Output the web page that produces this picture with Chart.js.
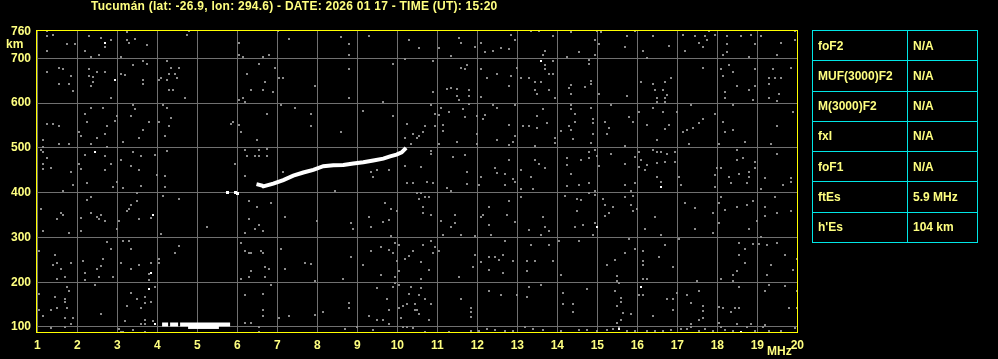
<!DOCTYPE html>
<html>
<head>
<meta charset="utf-8">
<script src="https://cdn.jsdelivr.net/npm/chart.js@4.4.1/dist/chart.umd.min.js"></script>
<style>
  html, body { margin: 0; padding: 0; background: #000; }
  #wrap { position: relative; width: 998px; height: 359px; background: #000; }
  #iono { position: absolute; left: 0; top: 0; }
  #params {
    position: absolute; left: 812px; top: 30px; width: 166px; height: 213px;
    border-collapse: collapse; font: bold 12px "Liberation Sans", Arial, sans-serif; color: #ffff80;
  }
  #params td { border: 1px solid #00e6e6; padding: 0 0 0 5px; height: 29px; vertical-align: middle; }
  #params td:first-child { width: 89px; }
</style>
</head>
<body>
<div id="wrap">
  <canvas id="iono" width="998" height="359"></canvas>
  <table id="params"></table>
</div>
<script>
const TITLE = "Tucumán (lat: -26.9, lon: 294.6) - DATE: 2026 01 17 - TIME (UT): 15:20";

// ── axis ticks ───────────────────────────────────────────────
const freqTicks   = [1,2,3,4,5,6,7,8,9,10,11,12,13,14,15,16,17,18,19,20];
const heightTicks = [100,200,300,400,500,600,700,760];

// ── scaled parameters table ─────────────────────────────────
const paramNames  = ["foF2", "MUF(3000)F2", "M(3000)F2", "fxI", "foF1", "ftEs", "h'Es"];
const paramValues = ["N/A", "N/A", "N/A", "N/A", "N/A", "5.9 MHz", "104 km"];

// ── echo traces [MHz, km] ────────────────────────────────────
const fTrace = [
  [6.48,419],[6.62,416],[6.65,414],[6.9,420],[7.15,428],[7.4,438],[7.65,445],[7.9,451],
  [8.15,459],[8.4,461],[8.65,462],[8.9,465],[9.15,468],[9.4,472],[9.65,476],
  [9.82,481],[9.98,485],[10.11,490],[10.22,500]
];
const fSpread  = [[5.75,401],[5.95,400],[6.0,399]];
const esUpper  = [[4.12,105.5],[4.27,105.5],null,[4.32,105.5],[4.52,105.5],null,[4.57,105.5],[5.82,105.5]];
const esLower  = [[4.77,99],[5.54,99]];

// ── scattered white returns ──────────────────────────────────
const whiteDots = [
  [2.69,735],[2.94,652],[2.44,490],[13.59,693],[3.89,350],[3.84,220],[3.79,184],
  [16.59,413],[14.99,323],[16.09,189],[15.54,95],[18.59,88],[3.93,106]
];

// ── background noise [MHz, km] ───────────────────────────────
const noiseTopLeft = [
  [1.24,762],[1.39,753],[1.24,749],[1.74,731],[1.94,733],[1.24,717],
  [2.28,749],[2.59,746],[2.83,740],[2.69,726],[2.19,717],[2.53,708],[2.34,704],
  [3.24,758],[3.24,741],[3.44,744],[3.29,735],[3.74,729],[3.09,704],
  [4.79,762],[4.74,753],
  [6.04,735],[6.04,708],[6.14,704],[7.02,762],[7.29,744],[6.64,704],[6.79,708],
  [8.58,747],[8.79,731],[8.79,708],[9.29,749],[10.29,740],[10.19,698],
  [1.24,670],[1.54,679],[1.64,676],[1.84,661],[1.54,643],[1.79,643],[1.89,627],
  [2.29,676],[2.29,660],[2.39,658],[2.34,639],[2.49,670],[2.69,670],[2.39,648],
  [3.09,666],[3.19,663],[3.39,684],[3.64,693],[3.74,688],[3.64,652],[3.64,643],[2.84,612],
  [4.04,652],[4.09,657],[4.24,693],[4.34,679],[4.54,679],[4.29,666],[4.44,666],[4.49,657],
  [4.24,652],[4.29,630],[4.39,630],[4.69,612],
  [6.24,666],[6.54,688],[6.94,679],[6.69,648],[7.04,657],[7.14,657],[6.34,630],[6.64,630],
  [6.89,625],[6.04,607],[6.14,612],[6.19,603],
  [7.94,639],[8.79,675],[8.79,612],[9.89,688],[9.64,603],
  [2.19,576],[2.34,590],[2.64,589],[1.24,553],[1.39,553],[1.54,549],[1.14,517],[1.14,503],
  [2.04,535],[2.09,526],[2.24,558],[2.74,549],[2.69,531],[2.49,522],[2.34,508],[1.54,508],[1.79,508],
  [2.94,561],[2.99,572],[3.39,595],[3.44,586],[3.34,572],[3.64,540],[3.79,558],[3.54,522],
  [3.14,513],[4.19,526],[4.14,595],[4.24,590],[4.34,567],[4.29,549],[4.04,558],
  [5.84,553],[6.04,551],[5.89,558],[6.09,535],[6.49,517],[6.74,576],[7.09,595],[7.44,590],
  [7.84,576],[7.84,549],[8.59,535],[9.14,582],[9.89,572],[10.24,553],[10.19,522],[10.39,531],
  [10.34,508],[10.49,522],
  [1.09,495],[1.14,490],[1.24,477],[1.14,463],[1.14,452],[1.34,454],[1.84,445],[2.04,463],
  [2.09,452],[2.19,484],[2.69,481],[2.74,502],[2.84,463],[2.69,450],[3.09,472],[3.39,490],
  [3.59,481],[3.94,484],[3.34,459],[3.54,450],[3.99,439],[4.24,493],[4.19,437],[5.94,463],
  [6.19,495],[6.24,481],[6.44,481],[6.54,481],[6.74,481],[6.54,495],[6.74,497],
  [6.19,437],[7.14,445],[9.34,445],[9.49,450],[9.79,450],[10.19,459],[9.39,434]
];

const noiseTopRight = [
  [10.54,724],[11.04,722],[11.34,706],[11.54,746],[11.59,735],[11.94,726],[12.09,735],
  [12.19,713],[12.39,717],[12.59,722],[12.79,720],[12.84,753],[12.94,740],[13.34,762],
  [13.54,762],[13.64,708],[13.69,717],[13.89,749],[14.34,758],[14.54,713],[14.24,704],
  [14.94,740],[15.04,731],[15.09,758],[15.0,762],[14.94,708],[15.69,726],[15.74,749],
  [15.94,762],[16.14,717],[16.24,701],[16.39,749],[16.79,728],[17.14,753],[17.19,717],
  [17.44,749],[17.54,735],[17.64,726],[17.69,749],[17.74,740],[17.79,762],[17.94,753],
  [18.24,749],[18.24,731],[18.14,708],[18.24,713],[18.59,749],[18.84,753],[18.94,731],
  [18.79,704],[19.09,749],[19.59,735],[19.49,708],[19.94,762],[19.94,740],
  [10.89,693],[10.89,625],[11.24,632],[11.34,634],[11.49,632],[11.59,679],[11.74,686],
  [11.69,675],[11.49,616],[11.54,607],[11.79,630],[11.79,616],[12.09,675],[12.24,655],
  [12.49,666],[12.84,661],[12.79,639],[12.09,614],[12.99,679],[13.09,657],[13.29,657],
  [13.44,648],[13.44,630],[13.49,621],[13.69,684],[13.69,675],[13.79,666],[13.89,666],
  [13.89,693],[13.59,646],[13.79,630],[13.94,612],[14.29,634],[14.34,641],[14.34,621],
  [14.69,636],[14.84,650],[14.84,643],[14.79,688],[14.79,697],[15.04,621],[15.74,616],
  [16.09,648],[16.39,643],[16.44,630],[16.64,630],[16.69,648],[16.84,655],[16.49,612],
  [16.69,612],[16.74,618],[16.69,603],[16.49,603],[17.64,679],[18.09,677],[18.29,686],
  [18.39,670],[18.14,661],[18.94,675],[18.94,639],[18.19,625],[18.19,612],[18.49,639],
  [18.79,630],[18.89,607],[19.39,677],[19.29,657],[19.29,643],[19.44,655],[19.59,655],
  [19.29,612],[19.49,605],[19.54,621],[19.84,679],
  [10.84,595],[10.94,576],[11.04,574],[11.09,590],[11.29,579],[10.69,549],[10.64,536],
  [10.54,527],[10.94,548],[11.14,552],[11.14,538],[11.04,508],[11.49,513],[11.64,586],
  [11.69,568],[11.79,599],[11.99,571],[12.19,574],[12.14,564],[11.99,531],[11.99,508],
  [12.39,595],[12.49,590],[12.79,552],[12.94,527],[12.94,595],[12.49,517],[12.79,506],
  [12.89,513],[13.14,549],[13.29,549],[13.49,544],[13.49,572],[13.64,586],[13.74,556],
  [13.44,504],[13.94,522],[13.94,511],[14.09,538],[14.29,549],[14.34,540],[14.39,520],
  [14.34,595],[14.34,586],[14.44,576],[14.44,558],[14.84,590],[14.89,564],[14.89,555],
  [14.89,531],[14.84,511],[15.19,558],[15.34,595],[15.29,544],[15.24,531],[15.79,568],
  [15.89,558],[15.69,504],[16.04,579],[16.24,552],[16.39,590],[16.64,579],[16.79,552],
  [16.69,543],[16.49,517],[16.99,579],[17.34,595],[17.14,536],[17.24,540],[17.39,544],
  [17.54,556],[17.64,564],[17.29,508],[17.94,576],[18.14,558],[18.19,536],[18.39,540],
  [18.04,508],[18.39,595],[18.69,513],[19.49,549],[19.34,508],[19.89,581],
  [10.84,493],[10.84,486],[10.59,457],[11.39,479],[11.69,484],[11.74,445],[12.09,436],
  [12.49,443],[12.44,454],[12.69,441],[12.79,474],[12.89,430],[13.09,450],[13.44,474],
  [13.54,463],[13.69,454],[13.34,434],[14.24,477],[14.24,461],[14.59,472],[14.79,490],
  [14.79,477],[14.34,441],[14.94,495],[14.99,481],[15.04,459],[15.34,486],[15.69,463],
  [15.94,479],[16.04,490],[16.04,457],[16.09,472],[16.19,450],[16.39,495],[16.49,490],
  [16.59,490],[16.74,486],[16.94,490],[16.24,461],[16.49,466],[16.49,436],[16.69,468],
  [16.94,468],[17.04,436],[17.99,454],[17.94,439],[18.09,454],[18.29,436],[18.49,474],
  [18.49,495],[18.64,477],[18.54,441],[18.79,445],[18.79,436],[18.94,468],[18.94,454],
  [19.19,432],[19.49,486],[19.84,432]
];

const noiseBottomLeft = [
  [1.89,417],[2.24,422],[2.89,413],[3.14,410],[3.59,415],[2.99,424],[3.49,399],[4.19,413],
  [1.64,404],[10.24,422],[10.39,422],[8.44,404],[10.49,399],
  [1.09,363],[1.59,355],[1.64,350],[1.49,341],[2.09,343],[2.24,384],[2.34,390],[2.34,355],
  [2.49,346],[2.59,350],[2.54,341],[2.69,337],[2.09,314],[1.79,310],[1.14,314],[2.99,319],
  [3.04,337],[3.24,359],[3.34,372],[3.49,381],[3.29,363],[3.54,341],[3.84,343],[4.09,308],
  [4.14,393],[4.54,386],[5.24,323],[6.29,381],[6.49,368],[6.84,377],[6.29,341],[6.54,328],
  [6.44,319],[6.64,314],[6.19,310],[7.19,346],[7.99,337],[9.29,346],[9.69,377],[9.84,363],
  [8.84,332],[8.89,319],[9.34,323],[9.64,334],[9.79,339],[9.99,359],[9.84,303],
  [1.04,269],[1.44,260],[1.49,243],[1.59,229],[1.39,238],[1.84,243],[1.69,211],[1.49,207],
  [2.14,247],[2.19,220],[2.19,204],[2.49,229],[2.59,236],[2.64,252],[2.74,290],[2.84,274],
  [2.54,211],[2.89,211],[3.09,243],[3.14,292],[3.29,292],[3.34,274],[3.34,229],[3.54,238],
  [3.79,218],[3.79,204],[3.84,243],[4.04,252],[4.04,243],[4.44,265],[4.54,281],
  [6.09,287],[6.19,269],[6.29,265],[6.34,265],[6.59,269],[6.64,265],[6.34,225],[6.29,211],
  [6.09,207],[6.69,234],[6.79,229],[6.69,211],[7.09,274],[7.19,229],[7.69,243],[7.84,240],
  [7.94,202],[8.64,207],[8.84,256],[9.14,238],[9.34,269],[9.59,278],[9.59,216],[9.79,272],
  [9.89,265],[9.94,287],[10.04,283],[10.19,252],[10.29,258],[9.99,247],[10.04,225],
  [10.39,269],[9.94,211],
  [1.04,173],[1.04,137],[1.14,124],[1.44,166],[1.34,139],[1.49,142],[1.69,162],[1.69,155],
  [1.74,142],[1.79,180],[1.74,189],[1.69,119],[1.69,99],[1.34,97],[1.89,119],[1.84,106],
  [2.59,128],[2.44,193],[3.19,113],[3.04,95],[3.09,88],[3.24,146],[3.34,175],[3.49,162],
  [3.69,166],[3.59,142],[3.69,153],[3.84,155],[3.89,113],[3.69,115],[3.59,106],[3.69,106],
  [3.39,93],[3.69,88],[3.94,189],[3.14,89],
  [6.19,171],[6.64,173],[6.64,139],[6.84,193],[6.19,110],[6.34,110],[6.54,99],[6.64,124],
  [7.04,119],[7.29,124],[7.94,126],[8.14,133],[8.79,153],[8.79,142],[9.29,124],[9.49,115],
  [9.64,115],[9.49,187],[9.74,162],[9.79,139],[9.89,189],[10.04,193],[9.94,198],[10.04,142],
  [10.14,146],[10.24,151],[10.29,173],[10.34,189],[10.44,151],[10.09,119],[10.14,101],
  [10.24,101],[10.39,97],[10.44,137],[9.39,93],[9.79,106],[8.99,99],[8.69,95],[6.54,88]
];

const noiseBottomRight = [
  [10.59,399],[10.74,424],[10.89,422],[11.24,410],[11.34,404],[11.74,419],[12.04,417],
  [12.69,417],[12.94,424],[13.09,408],[13.39,408],[14.24,415],[14.54,417],[14.79,422],
  [14.94,404],[15.69,417],[15.84,404],[15.94,422],[16.59,424],[17.09,417],[17.94,413],
  [18.34,422],[18.74,422],[19.09,408],[19.64,417],[19.84,424],
  [10.49,399],[10.54,386],[10.69,390],[10.79,390],[10.64,368],[10.64,355],[10.84,350],
  [11.09,337],[11.44,350],[11.44,332],[11.34,323],[11.14,305],[11.59,305],[11.94,303],
  [12.29,368],[12.09,346],[12.14,350],[12.29,328],[12.74,350],[12.79,381],[12.94,334],
  [12.34,305],[13.09,390],[13.29,316],[13.59,305],[13.64,346],[13.69,323],[13.79,314],
  [14.19,393],[14.49,359],[14.44,323],[14.49,386],[14.59,384],[14.64,328],[14.89,305],
  [14.94,332],[14.79,399],[14.94,394],[15.14,386],[15.19,372],[15.19,348],[15.29,355],
  [15.39,368],[15.69,390],[15.84,372],[15.89,393],[15.89,359],[15.99,363],[16.19,319],
  [16.44,346],[16.59,305],[17.19,377],[17.44,366],[17.89,355],[17.44,319],[17.89,310],
  [18.04,377],[18.09,390],[18.19,361],[18.04,332],[18.49,368],[18.74,372],[18.89,381],
  [18.99,337],[18.79,319],[19.19,368],[19.19,348],[19.44,390],[19.49,355],[19.84,359],
  [19.09,301],
  [10.64,283],[10.84,292],[10.94,278],[10.89,265],[11.04,269],[10.59,245],[10.79,227],
  [10.59,207],[11.54,211],[11.89,234],[11.94,260],[12.09,245],[12.29,227],[12.29,256],
  [12.44,256],[12.54,249],[12.64,260],[12.64,220],[12.89,247],[12.69,292],[13.24,247],
  [13.44,247],[13.24,225],[13.34,283],[13.79,283],[13.89,247],[14.09,216],[14.04,292],
  [14.54,292],[15.24,238],[15.44,249],[15.49,213],[15.49,202],[15.69,265],[15.79,296],
  [15.94,274],[16.14,269],[16.14,247],[16.14,238],[16.54,256],[16.69,283],[16.24,207],
  [16.14,207],[16.89,234],[17.04,296],[17.49,202],[18.09,207],[18.39,216],[18.39,202],
  [18.49,225],[18.54,287],[18.69,274],[18.69,243],[18.54,260],[18.89,285],[19.04,285],
  [19.24,283],[19.24,216],[19.49,287],[19.69,260],[19.34,238],[19.89,227],[19.99,252],
  [10.59,187],[10.54,171],[10.69,162],[10.84,151],[10.49,137],[10.54,128],[10.79,115],
  [11.59,162],[11.84,142],[11.84,133],[11.84,122],[12.29,180],[12.59,171],[12.99,171],
  [13.29,189],[13.24,166],[13.59,193],[14.14,175],[14.14,151],[14.39,151],[14.39,133],
  [14.74,184],[15.44,180],[15.54,198],[15.59,164],[15.49,146],[15.59,155],[15.64,131],
  [15.84,128],[15.49,110],[15.59,115],[15.54,101],[16.04,171],[16.14,171],[16.39,124],
  [16.74,162],[16.89,162],[16.99,175],[16.89,139],[17.24,171],[17.34,153],[17.54,180],
  [17.64,146],[17.64,135],[17.64,119],[17.54,115],[17.34,106],[18.04,144],[18.14,142],
  [18.34,133],[18.44,142],[18.54,142],[18.54,189],[18.04,108],[19.19,180],[19.29,193],
  [19.69,191],[19.79,142],[19.99,142],[19.99,180],[18.49,106],[18.84,106],[19.19,104],
  [10.69,88],[11.29,88],[11.84,92],[12.04,90],[12.24,95],[12.44,93],[12.69,92],[12.89,90],
  [13.19,99],[13.39,95],[13.64,93],[14.09,92],[14.54,93],[14.74,93],[14.99,92],[15.24,93],
  [15.39,95],[15.74,90],[15.94,92],[16.24,90],[16.44,92],[16.64,92],[16.84,93],[17.09,95],
  [17.24,95],[17.34,101],[17.54,92],[17.69,95],[17.89,92],[18.09,99],[18.19,93],[18.39,92],
  [18.74,99],[18.94,92],[19.14,99],[19.29,90],[19.59,92],[19.94,97]
];

// ── colours ──────────────────────────────────────────────────
const TEXT   = "#ffff80";
const FRAME  = "#ffff00";
const GRID   = "#707070";
const NOISE  = "#8c8c8c";
const FONT   = '"Liberation Sans", Arial, sans-serif';

const toXY = arr => arr.map(p => p ? { x: p[0], y: p[1] } : { x: null, y: null });

// small square sprites so the echoes stay crisp like the sounder output
function sprite(size, color) {
  const c = document.createElement("canvas");
  c.width = size; c.height = size;
  const g = c.getContext("2d");
  g.fillStyle = color;
  g.fillRect(0, 0, size, size);
  return c;
}
const grayDot  = sprite(2, NOISE);
const whiteDot = sprite(2, "#ffffff");
const whiteBig = sprite(3, "#ffffff");

function dotSet(arr, img) {
  return {
    type: "scatter", data: toXY(arr), showLine: false,
    pointStyle: img, pointRadius: 1, pointHoverRadius: 1
  };
}

function traceSet(arr, width) {
  return {
    type: "line", data: toXY(arr), showLine: true, spanGaps: false,
    borderColor: "#ffffff", borderWidth: width, pointRadius: 0, tension: 0,
    borderCapStyle: "butt"
  };
}

// ── frame, title, unit labels ────────────────────────────────
const framePlugin = {
  id: "frame",
  beforeDraw(chart) {
    chart.ctx.imageSmoothingEnabled = false;
  },
  afterDraw(chart) {
    const { ctx, chartArea: a } = chart;
    ctx.save();
    ctx.strokeStyle = FRAME;
    ctx.lineWidth = 1;
    ctx.strokeRect(a.left + 0.5, a.top + 0.5, a.right - a.left - 1, a.bottom - a.top - 1);
    ctx.fillStyle = TEXT;
    ctx.font = "bold 12px " + FONT;
    ctx.textBaseline = "middle";
    ctx.textAlign = "left";
    ctx.letterSpacing = "0.25px";
    ctx.fillText(TITLE, 91, 7);
    ctx.letterSpacing = "0px";
    ctx.fillText("km", 6, 45);
    ctx.fillText("MHz", 767, 352);
    ctx.restore();
  }
};

new Chart(document.getElementById("iono"), {
  type: "scatter",
  data: {
    datasets: [
      dotSet(noiseTopLeft, grayDot),
      dotSet(noiseTopRight, grayDot),
      dotSet(noiseBottomLeft, grayDot),
      dotSet(noiseBottomRight, grayDot),
      dotSet(whiteDots, whiteDot),
      dotSet(fSpread, whiteBig),
      traceSet(fTrace, 4),
      traceSet(esUpper, 4),
      traceSet(esLower, 3)
    ]
  },
  options: {
    responsive: false,
    animation: false,
    devicePixelRatio: 1,
    layout: { padding: { top: 30, right: 200, left: 0, bottom: 0 } },
    plugins: { legend: { display: false }, tooltip: { enabled: false } },
    scales: {
      x: {
        type: "linear", min: 0.9675, max: 20.0175,
        afterBuildTicks: s => { s.ticks = freqTicks.map(v => ({ value: v })); },
        afterFit: s => { s.height = 26; },
        grid: { color: GRID, lineWidth: 1, drawTicks: false },
        border: { display: false },
        ticks: { color: TEXT, font: { family: FONT, size: 12, weight: "bold" }, padding: 5, maxRotation: 0, autoSkip: false }
      },
      y: {
        type: "linear", min: 86.6, max: 763.2,
        afterBuildTicks: s => { s.ticks = heightTicks.map(v => ({ value: v })); },
        afterFit: s => { s.width = 36; },
        grid: {
          color: c => (c.tick && c.tick.value === 760) ? "rgba(0,0,0,0)" : GRID,
          lineWidth: 1, drawTicks: false
        },
        border: { display: false },
        ticks: { color: TEXT, font: { family: FONT, size: 12, weight: "bold" }, padding: 5, autoSkip: false }
      }
    }
  },
  plugins: [framePlugin]
});

// ── parameters table ─────────────────────────────────────────
document.getElementById("params").innerHTML = paramNames
  .map((n, i) => `<tr><td>${n}</td><td>${paramValues[i]}</td></tr>`)
  .join("");
</script>
</body>
</html>
